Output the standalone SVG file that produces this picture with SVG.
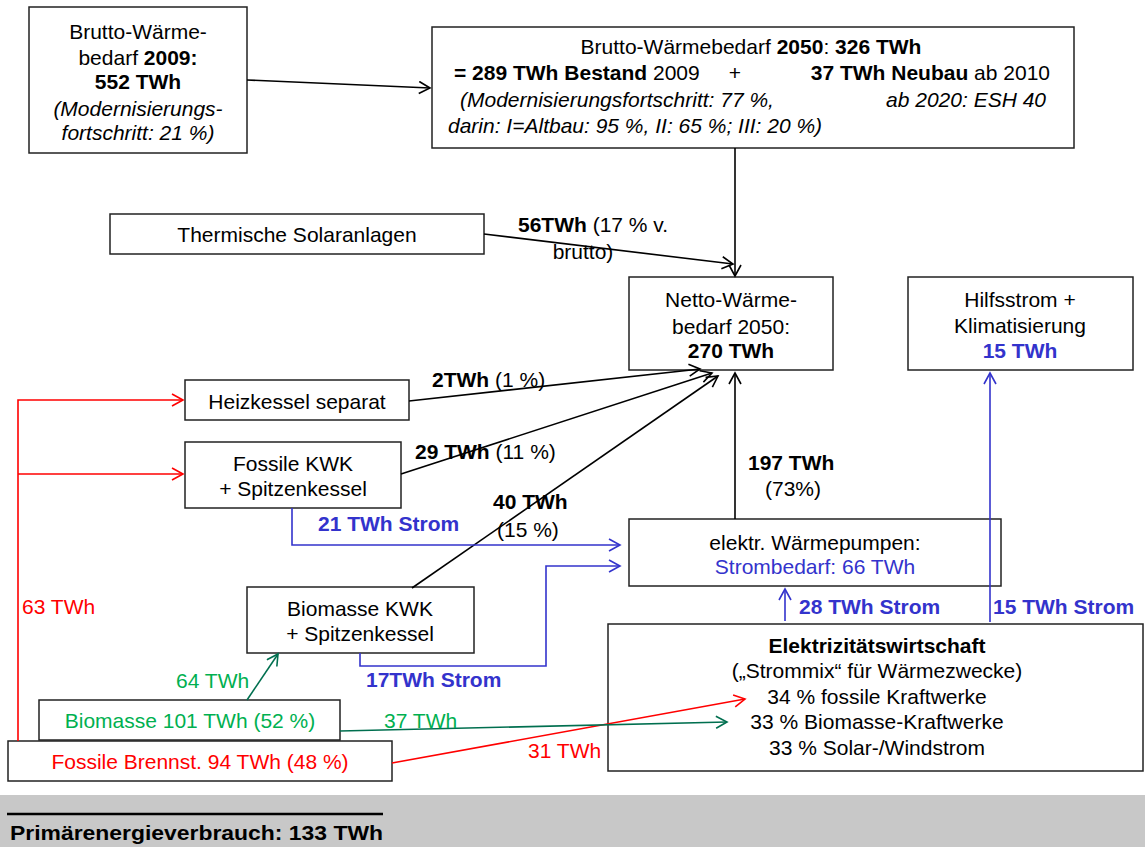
<svg xmlns="http://www.w3.org/2000/svg" width="1145" height="847" viewBox="0 0 1145 847">
<style>
text{font-family:"Liberation Sans",Arial,sans-serif;font-size:21px;fill:#000}
.c{text-anchor:middle}
.e{text-anchor:end}
.b{font-weight:bold}
.i{font-style:italic}
.blue{fill:#3333cc}
.red{fill:#ff0000}
.grn{fill:#00b050}
.box{fill:#fff;stroke:#222;stroke-width:1.5}
.k{fill:none;stroke:#000;stroke-width:1.6}
.r{fill:none;stroke:#ff0000;stroke-width:1.6}
.bl{fill:none;stroke:#3333cc;stroke-width:1.6}
.g{fill:none;stroke:#006f4f;stroke-width:1.6}
</style>
<defs>
<marker id="ak" markerWidth="14" markerHeight="14" refX="12" refY="7" orient="auto" markerUnits="userSpaceOnUse"><path d="M1,1 L12,7 L1,13" fill="none" stroke="#000" stroke-width="1.6"/></marker>
<marker id="ar" markerWidth="14" markerHeight="14" refX="12" refY="7" orient="auto" markerUnits="userSpaceOnUse"><path d="M1,1 L12,7 L1,13" fill="none" stroke="#ff0000" stroke-width="1.6"/></marker>
<marker id="ab" markerWidth="14" markerHeight="14" refX="12" refY="7" orient="auto" markerUnits="userSpaceOnUse"><path d="M1,1 L12,7 L1,13" fill="none" stroke="#3333cc" stroke-width="1.6"/></marker>
<marker id="ag" markerWidth="14" markerHeight="14" refX="12" refY="7" orient="auto" markerUnits="userSpaceOnUse"><path d="M1,1 L12,7 L1,13" fill="none" stroke="#006f4f" stroke-width="1.6"/></marker>
</defs>
<rect x="0" y="0" width="1145" height="847" fill="#fff"/>
<rect x="0" y="795" width="1145" height="52" fill="#c8c8c8"/>
<line x1="7" y1="814" x2="383" y2="814" stroke="#000" stroke-width="2.5"/>
<text x="10" y="840" class="b" textLength="373" lengthAdjust="spacingAndGlyphs">Primärenergieverbrauch: 133 TWh</text>

<g id="brutto2009">
<rect class="box" x="29" y="7" width="218" height="146"/>
<text x="138" y="39" class="c">Brutto-Wärme-</text>
<text x="138" y="65" class="c">bedarf <tspan class="b">2009:</tspan></text>
<text x="138" y="89" class="c b">552 TWh</text>
<text x="138" y="116" class="c i">(Modernisierungs-</text>
<text x="138" y="140" class="c i">fortschritt: 21 %)</text>
</g>

<g id="brutto2050">
<rect class="box" x="432" y="27" width="642" height="121"/>
<text x="751" y="54" class="c">Brutto-Wärmebedarf <tspan class="b">2050</tspan>: <tspan class="b">326 TWh</tspan></text>
<text x="454" y="80"><tspan class="b">= 289 TWh Bestand</tspan> 2009</text>
<text x="735" y="80" class="c">+</text>
<text x="1050" y="80" class="e"><tspan class="b">37 TWh Neubau</tspan> ab 2010</text>
<text x="460" y="107" class="i">(Modernisierungsfortschritt: 77 %,</text>
<text x="1046" y="107" class="e i">ab 2020: ESH 40</text>
<text x="448" y="133" class="i">darin: I=Altbau: 95 %, II: 65 %; III: 20 %)</text>
</g>

<g id="solar">
<rect class="box" x="110" y="214" width="374" height="40"/>
<text x="297" y="242" class="c">Thermische Solaranlagen</text>
</g>

<g id="netto">
<rect class="box" x="629" y="277" width="204" height="93"/>
<text x="731" y="307" class="c">Netto-Wärme-</text>
<text x="731" y="334" class="c">bedarf 2050:</text>
<text x="731" y="358" class="c b">270 TWh</text>
</g>

<g id="hilfsstrom">
<rect class="box" x="908" y="277" width="225" height="93"/>
<text x="1020" y="307" class="c">Hilfsstrom +</text>
<text x="1020" y="333" class="c">Klimatisierung</text>
<text x="1020" y="358" class="c b blue">15 TWh</text>
</g>

<g id="heizkessel">
<rect class="box" x="185" y="380" width="224" height="40"/>
<text x="297" y="409" class="c">Heizkessel separat</text>
</g>

<g id="fossilekwk">
<rect class="box" x="185" y="442" width="216" height="66"/>
<text x="293" y="471" class="c">Fossile KWK</text>
<text x="293" y="496" class="c">+ Spitzenkessel</text>
</g>

<g id="waermepumpen">
<rect class="box" x="629" y="519" width="372" height="67"/>
<text x="815" y="550" class="c">elektr. Wärmepumpen:</text>
<text x="815" y="574" class="c blue">Strombedarf: 66 TWh</text>
</g>

<g id="biomassekwk">
<rect class="box" x="247" y="587" width="227" height="66"/>
<text x="360" y="616" class="c">Biomasse KWK</text>
<text x="360" y="641" class="c">+ Spitzenkessel</text>
</g>

<g id="elektrizitaet">
<rect class="box" x="608" y="624" width="535" height="147"/>
<text x="877" y="653" class="c b">Elektrizitätswirtschaft</text>
<text x="877" y="678" class="c">(„Strommix“ für Wärmezwecke)</text>
<text x="877" y="704" class="c">34 % fossile Kraftwerke</text>
<text x="877" y="729" class="c">33 % Biomasse-Kraftwerke</text>
<text x="877" y="755" class="c">33 % Solar-/Windstrom</text>
</g>

<g id="biomasse">
<rect class="box" x="39" y="700" width="301" height="40"/>
<text x="190" y="728" class="c grn">Biomasse 101 TWh (52 %)</text>
</g>

<g id="fossilebrennst">
<rect class="box" x="8" y="741" width="384" height="40"/>
<text x="200" y="769" class="c red">Fossile Brennst. 94 TWh (48 %)</text>
</g>

<g id="connectors">
<path class="k" d="M247,80 L430,88" marker-end="url(#ak)"/>
<path class="k" d="M735,148 L735,276" marker-end="url(#ak)"/>
<path class="k" d="M484,234 L733,264" marker-end="url(#ak)"/>
<path class="k" d="M409,401 L700,369" marker-end="url(#ak)"/>
<path class="k" d="M401,474 L712,373" marker-end="url(#ak)"/>
<path class="k" d="M412,588 L718,376" marker-end="url(#ak)"/>
<path class="k" d="M735,519 L735,373" marker-end="url(#ak)"/>
<path class="bl" d="M990,622 L990,373" marker-end="url(#ab)"/>
<path class="bl" d="M785,621 L785,589" marker-end="url(#ab)"/>
<path class="bl" d="M292,508 L292,545 L620,545" marker-end="url(#ab)"/>
<path class="bl" d="M360,653 L360,666 L546,666 L546,566 L620,566" marker-end="url(#ab)"/>
<path class="r" d="M18,741 L18,400 L183,400" marker-end="url(#ar)"/>
<path class="r" d="M18,474 L183,474" marker-end="url(#ar)"/>
<path class="r" d="M392,763 L745,699" marker-end="url(#ar)"/>
<path class="g" d="M340,731 L727,722" marker-end="url(#ag)"/>
<path class="g" d="M247,700 L278,654" marker-end="url(#ag)"/>
<text x="518" y="232"><tspan class="b">56TWh</tspan> (17 % v.</text>
<text x="583" y="259" class="c">brutto)</text>
<text x="432" y="387"><tspan class="b">2TWh</tspan> (1 %)</text>
<text x="415" y="459"><tspan class="b">29 TWh</tspan> (11 %)</text>
<text x="493" y="509" class="b">40 TWh</text>
<text x="497" y="537">(15 %)</text>
<text x="748" y="470" class="b">197 TWh</text>
<text x="765" y="496">(73%)</text>
<text x="318" y="531" class="b blue">21 TWh Strom</text>
<text x="366" y="687" class="b blue">17TWh Strom</text>
<text x="799" y="614" class="b blue">28 TWh Strom</text>
<text x="993" y="614" class="b blue">15 TWh Strom</text>
<text x="22" y="614" class="red">63 TWh</text>
<text x="176" y="688" class="grn">64 TWh</text>
<text x="384" y="728" class="grn">37 TWh</text>
<text x="528" y="758" class="red">31 TWh</text>
</g>
</svg>
